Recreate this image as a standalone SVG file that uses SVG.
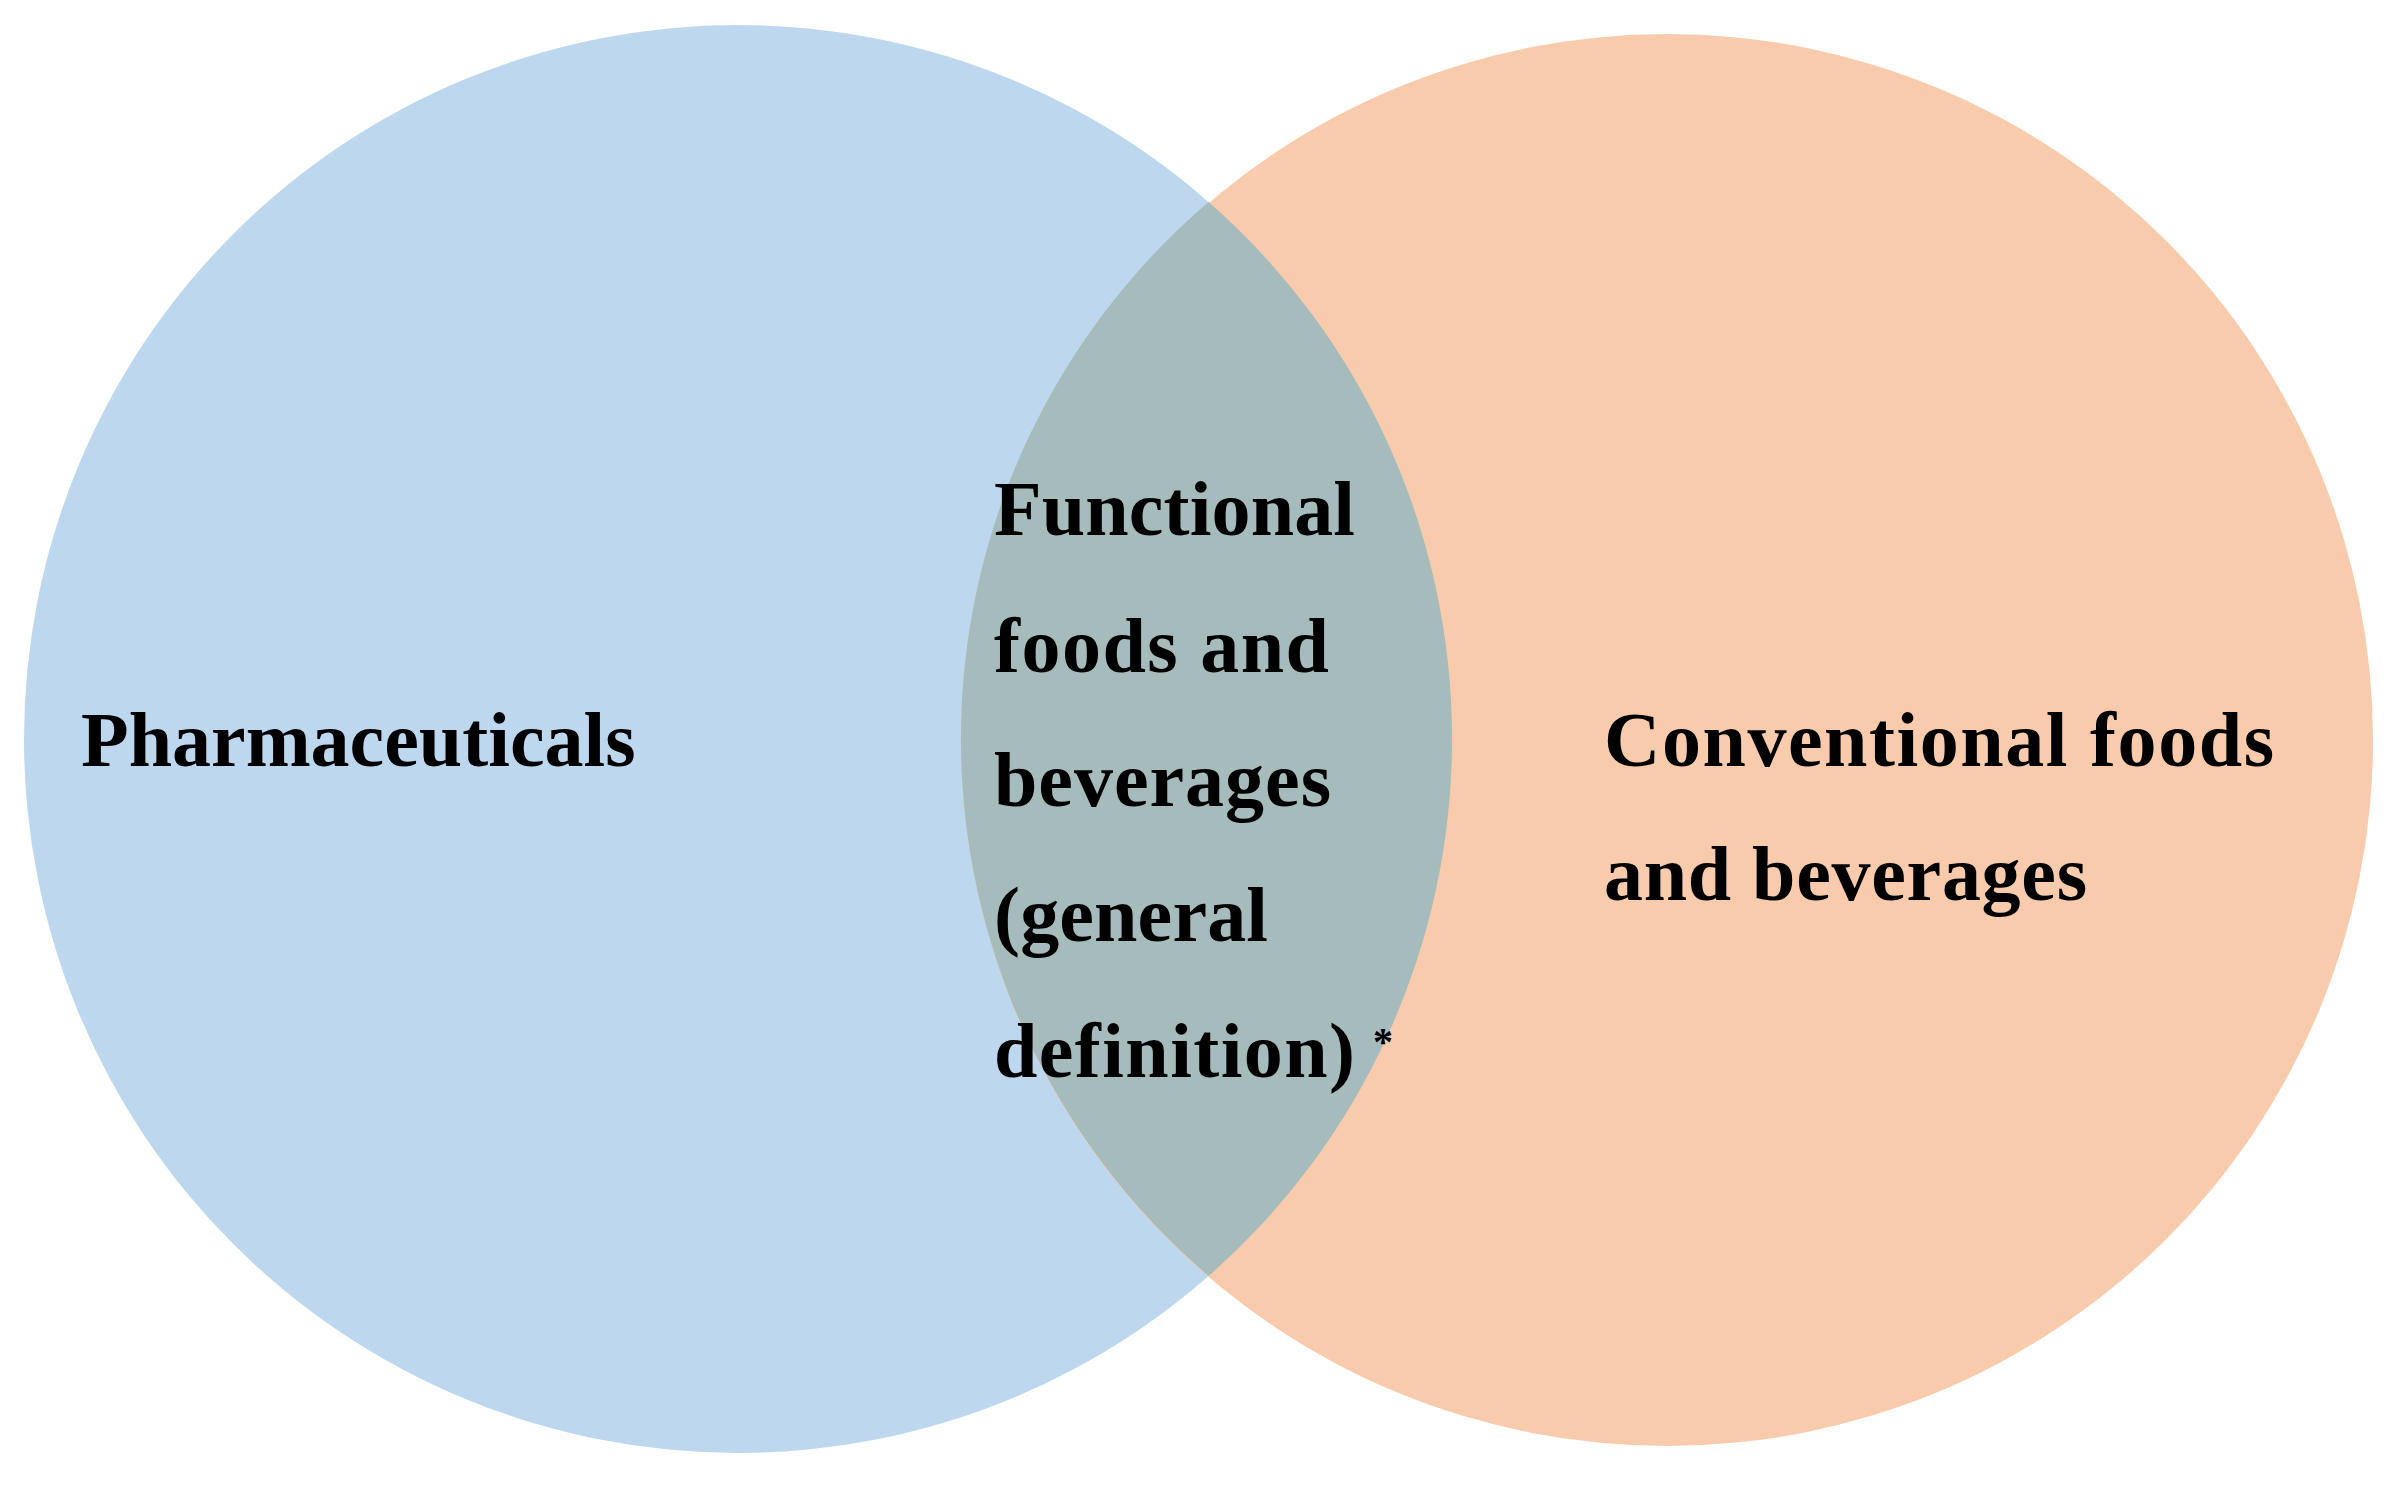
<svg xmlns="http://www.w3.org/2000/svg" width="2396" height="1487" viewBox="0 0 2396 1487">
  <style>
    .lbl { font-family: "Liberation Serif", "Times New Roman", serif; font-weight: bold; font-size: 78px; fill: #000000; }
    .sup { font-family: "Liberation Serif", "Times New Roman", serif; font-weight: bold; font-size: 40px; fill: #000000; }
  </style>
  <rect x="0" y="0" width="2396" height="1487" fill="#FFFFFF"/>
  <g id="pharmaceuticals">
    <circle cx="738" cy="739" r="714" fill="#BDD7EE"/>
    <text class="lbl" x="81" y="766">Pharmaceuticals</text>
  </g>
  <g id="conventional">
    <circle cx="1667" cy="740" r="706" fill="#F8CBAD"/>
    <text class="lbl" x="1604" y="766" textLength="670" lengthAdjust="spacing">Conventional foods</text>
    <text class="lbl" x="1604" y="900" textLength="483" lengthAdjust="spacing">and beverages</text>
  </g>
  <g id="functional">
    <path d="M1208.6,202 A706,706 0 0 0 1208.6,1276 A714,714 0 0 0 1208.6,202 Z" fill="#A6BBBB"/>
    <text class="lbl" x="994" y="535" textLength="361" lengthAdjust="spacing">Functional</text>
    <text class="lbl" x="994" y="672" textLength="335" lengthAdjust="spacing">foods and</text>
    <text class="lbl" x="994" y="806" textLength="337" lengthAdjust="spacing">beverages</text>
    <text class="lbl" x="994" y="941" textLength="274" lengthAdjust="spacing">(general</text>
    <text class="lbl" x="994" y="1077" textLength="361" lengthAdjust="spacing">definition)</text>
    <text class="sup" x="1373" y="1055">*</text>
  </g>
  <g id="connectors"/>
</svg>
